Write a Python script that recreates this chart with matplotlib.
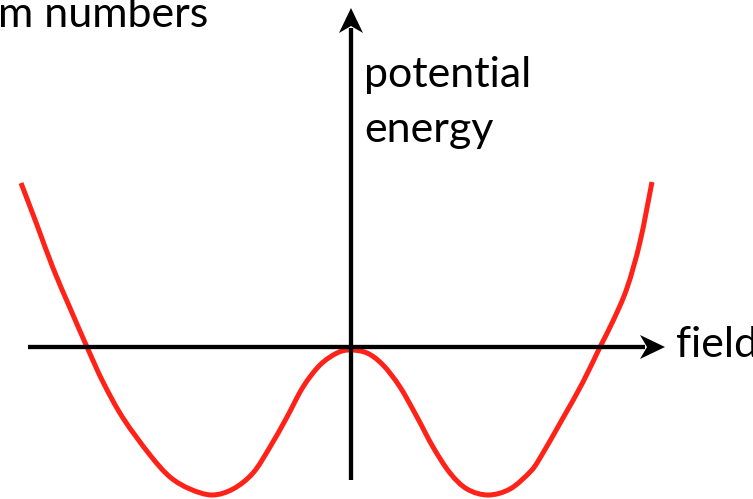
import numpy as np
import matplotlib.pyplot as plt
from matplotlib.patches import Polygon, PathPatch
from matplotlib.path import Path

# double-well potential, field vs energy (1 unit = 100 px)
field = [-3.30, -3.14, -2.98, -2.81, -2.64, -2.48, -2.28, -2.01, -1.81, -1.61, -1.39,
         -1.18, -0.98, -0.81, -0.64, -0.48, -0.31, -0.14, -0.01, 0.16, 0.32, 0.49,
         0.66, 0.82, 0.99, 1.16, 1.37, 1.59, 1.79, 1.89, 2.12, 2.32, 2.49, 2.62,
         2.76, 2.89, 3.01]
energy = [1.64, 1.22, 0.79, 0.39, 0.00, -0.35, -0.71, -1.08, -1.30, -1.42, -1.48,
          -1.42, -1.26, -1.00, -0.70, -0.40, -0.18, -0.06, -0.03, -0.06, -0.18, -0.40,
          -0.70, -1.00, -1.26, -1.42, -1.48, -1.42, -1.25, -1.11, -0.71, -0.35, 0.00,
          0.26, 0.59, 1.05, 1.65]

x_axis = (-3.23, 3.14)
y_axis = (-1.33, 3.39)


def smooth_path(xs, ys):
    # Catmull-Rom through the points, written as cubic Bezier segments
    p = np.column_stack([xs, ys])
    p = np.vstack([p[0], p, p[-1]])
    verts = [p[1]]
    codes = [Path.MOVETO]
    for i in range(1, len(p) - 2):
        c1 = p[i] + (p[i + 1] - p[i - 1]) / 6
        c2 = p[i + 1] - (p[i + 2] - p[i]) / 6
        verts += [c1, c2, p[i + 1]]
        codes += [Path.CURVE4] * 3
    return Path(verts, codes)


fig = plt.figure(figsize=(7.53, 4.99), dpi=100)
ax = fig.add_axes([0, 0, 1, 1])
ax.set_xlim(-3.51, 4.02)
ax.set_ylim(-1.52, 3.47)
ax.axis('off')

lw = 3.1
ax.plot([x_axis[0], x_axis[1] - 0.2], [0, 0], color='black', lw=lw, solid_capstyle='butt')
ax.plot([0, 0], [y_axis[0], y_axis[1] - 0.2], color='black', lw=lw, solid_capstyle='butt')

# stealth-style arrow heads
L, W, N = 0.25, 0.12, 0.07
tx = x_axis[1]
ax.add_patch(Polygon([(tx, 0), (tx - L, W), (tx - L + N, 0), (tx - L, -W)],
                     closed=True, color='black', lw=0))
ty = y_axis[1]
ax.add_patch(Polygon([(0, ty), (W, ty - L), (0, ty - L + N), (-W, ty - L)],
                     closed=True, color='black', lw=0))

ax.add_patch(PathPatch(smooth_path(field, energy), facecolor='none',
                       edgecolor='#ff2218', lw=3.6, capstyle='butt'))

font = dict(family='Lato', fontsize=31, color='black')
ax.text(0.13, 2.60, 'potential', va='baseline', ha='left', **font)
ax.text(0.13, 2.05, 'energy', va='baseline', ha='left', **font)
ax.text(3.25, -0.10, 'field', va='baseline', ha='left', **font)
ax.text(-3.53, 3.20, 'm numbers', va='baseline', ha='left', **font)

fig.savefig('out.png', dpi=100)
